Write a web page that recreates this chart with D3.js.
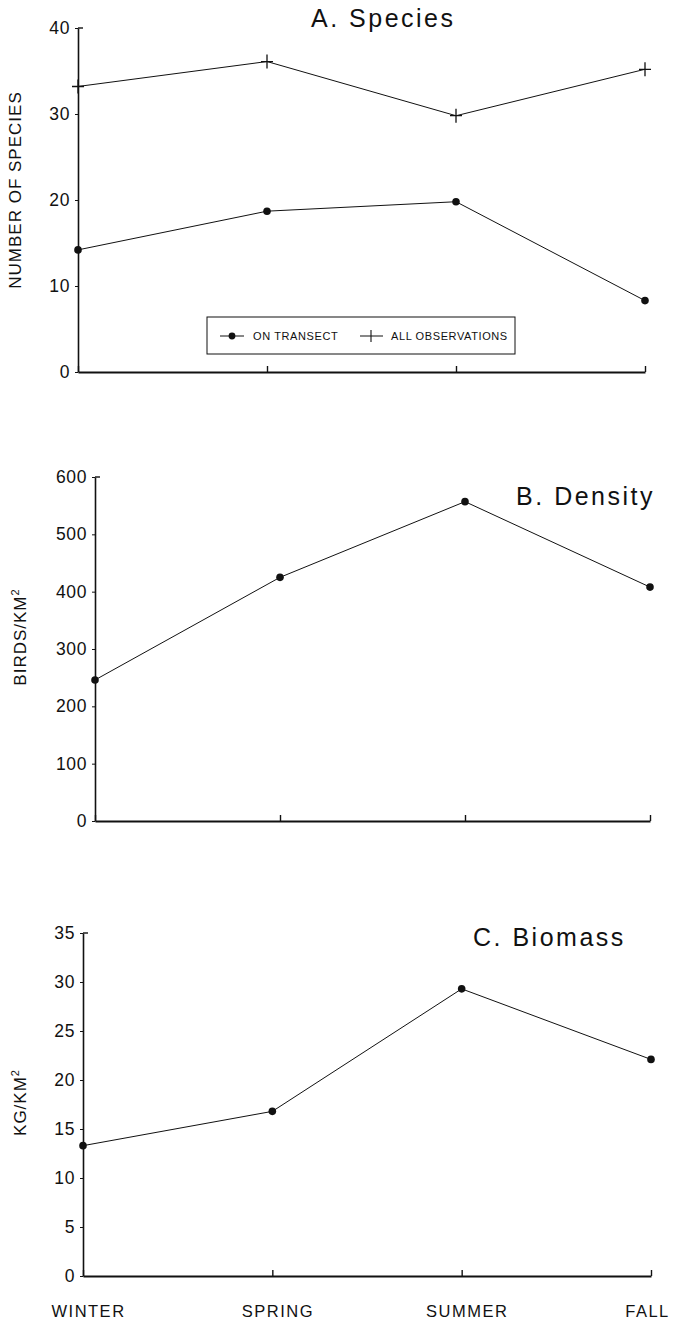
<!DOCTYPE html>
<html>
<head>
<meta charset="utf-8">
<script src="https://d3js.org/d3.v7.min.js"></script>
<style>
  body { margin: 0; background: #fff; }
  text { font-family: "Liberation Sans", Arial, sans-serif; fill: #111; }
</style>
</head>
<body>
<div id="chart"></div>
<script>
// seasons along the x axis
var seasons = ["WINTER", "SPRING", "SUMMER", "FALL"];

// A. number of species
var speciesTransect = [14.2, 18.7, 19.8, 8.3];
var speciesAll = [33.2, 36.1, 29.8, 35.2];
var speciesTicks = [0, 10, 20, 30, 40];

// B. density, birds/km2
var density = [246, 425, 557, 408];
var densityTicks = [0, 100, 200, 300, 400, 500, 600];

// C. biomass, kg/km2
var biomass = [13.3, 16.8, 29.3, 22.1];
var biomassTicks = [0, 5, 10, 15, 20, 25, 30, 35];

var W = 676, H = 1323;
var svg = d3.select("#chart").append("svg")
  .attr("width", W).attr("height", H);

function panel(opt) {
  var x = d3.scalePoint().domain(seasons).range([opt.left, opt.right]);
  var y = d3.scaleLinear().domain([0, d3.max(opt.ticks)]).range([opt.bottom, opt.top]);
  var g = svg.append("g");

  // y axis
  var ya = g.append("g")
    .attr("transform", "translate(" + opt.left + ",0)")
    .call(d3.axisLeft(y).tickValues(opt.ticks).tickSize(3).tickSizeOuter(0).tickPadding(5));
  ya.select(".domain").attr("stroke", "#111").attr("stroke-width", 1.6);
  ya.selectAll(".tick line").attr("stroke", "#111");
  ya.selectAll(".tick text")
    .style("font-size", "17.5px").style("letter-spacing", "0.6px")
    .attr("fill", "#111");
  // little hook at the top of the y axis
  g.append("line")
    .attr("x1", opt.left).attr("x2", opt.left + 5)
    .attr("y1", y(d3.max(opt.ticks))).attr("y2", y(d3.max(opt.ticks)))
    .attr("stroke", "#111").attr("stroke-width", 1.4);

  // x axis, ticks pointing up
  var xa = g.append("g")
    .attr("transform", "translate(0," + opt.bottom + ")")
    .call(d3.axisBottom(x).tickSize(-6).tickSizeOuter(0).tickPadding(29)
      .tickFormat(opt.xlabels ? null : function () { return ""; }));
  xa.select(".domain").attr("stroke", "#111").attr("stroke-width", 2);
  xa.selectAll(".tick line").attr("stroke", "#111").attr("stroke-width", 1.4);
  xa.selectAll(".tick text")
    .attr("dx", function (d, i) { return i === seasons.length - 1 ? -4 : 5; })
    .style("font-size", "16.5px").style("letter-spacing", "1.5px")
    .attr("fill", "#111");

  // y label
  g.append("text")
    .attr("transform", "translate(" + opt.labelX + "," + ((opt.top + opt.bottom) / 2 + opt.labelDy) + ") rotate(-90)")
    .attr("text-anchor", "middle")
    .style("font-size", "17px").style("letter-spacing", "1px")
    .html(opt.ylabel);

  // title
  g.append("text")
    .attr("x", opt.titleX).attr("y", opt.titleY)
    .attr("text-anchor", opt.titleAnchor)
    .style("font-size", "25px").style("letter-spacing", "2.5px")
    .text(opt.title);

  var line = d3.line()
    .x(function (d, i) { return x(seasons[i]); })
    .y(function (d) { return y(d); });

  opt.series.forEach(function (s) {
    g.append("path").datum(s.values)
      .attr("d", line)
      .attr("fill", "none").attr("stroke", "#111").attr("stroke-width", 1);
    if (s.marker === "dot") {
      g.selectAll(null).data(s.values).enter().append("circle")
        .attr("cx", function (d, i) { return x(seasons[i]); })
        .attr("cy", function (d) { return y(d); })
        .attr("r", 3.8).attr("fill", "#111");
    } else {
      g.selectAll(null).data(s.values).enter().append("path")
        .attr("d", function (d, i) {
          var cx = x(seasons[i]), cy = y(d);
          return "M" + (cx - 6) + "," + cy + "H" + (cx + 6) +
                 "M" + cx + "," + (cy - 7) + "V" + (cy + 7);
        })
        .attr("stroke", "#111").attr("stroke-width", 1.3).attr("fill", "none");
    }
  });
  return g;
}

var gA = panel({
  left: 78, right: 645, top: 28, bottom: 372,
  ticks: speciesTicks, xlabels: false,
  ylabel: "NUMBER OF SPECIES", labelX: 21, labelDy: -10,
  title: "A. Species", titleX: 311, titleY: 27, titleAnchor: "start",
  series: [
    { values: speciesTransect, marker: "dot" },
    { values: speciesAll, marker: "cross" }
  ]
});

var gB = panel({
  left: 95, right: 650, top: 477, bottom: 821,
  ticks: densityTicks, xlabels: false,
  ylabel: "BIRDS/KM<tspan dy='-7' font-size='11px'>2</tspan>", labelX: 26, labelDy: -12,
  title: "B. Density", titleX: 655, titleY: 505, titleAnchor: "end",
  series: [{ values: density, marker: "dot" }]
});

var gC = panel({
  left: 83, right: 651, top: 933, bottom: 1276,
  ticks: biomassTicks, xlabels: true,
  ylabel: "KG/KM<tspan dy='-7' font-size='11px'>2</tspan>", labelX: 26, labelDy: -2,
  title: "C. Biomass", titleX: 473, titleY: 946, titleAnchor: "start",
  series: [{ values: biomass, marker: "dot" }]
});

// legend in panel A
var lg = gA.append("g");
lg.append("rect")
  .attr("x", 207).attr("y", 317).attr("width", 308).attr("height", 37)
  .attr("fill", "#fff").attr("stroke", "#111").attr("stroke-width", 1);
lg.append("line").attr("x1", 220).attr("x2", 244).attr("y1", 336).attr("y2", 336)
  .attr("stroke", "#111");
lg.append("circle").attr("cx", 232).attr("cy", 336).attr("r", 3.4).attr("fill", "#111");
lg.append("text").attr("x", 253).attr("y", 340)
  .style("font-size", "11px").style("letter-spacing", "0.6px").text("ON TRANSECT");
lg.append("path")
  .attr("d", "M360,336H383M371,330V342")
  .attr("stroke", "#111").attr("stroke-width", 1.1);
lg.append("text").attr("x", 391).attr("y", 340)
  .style("font-size", "11px").style("letter-spacing", "0.6px").text("ALL OBSERVATIONS");
</script>
</body>
</html>
